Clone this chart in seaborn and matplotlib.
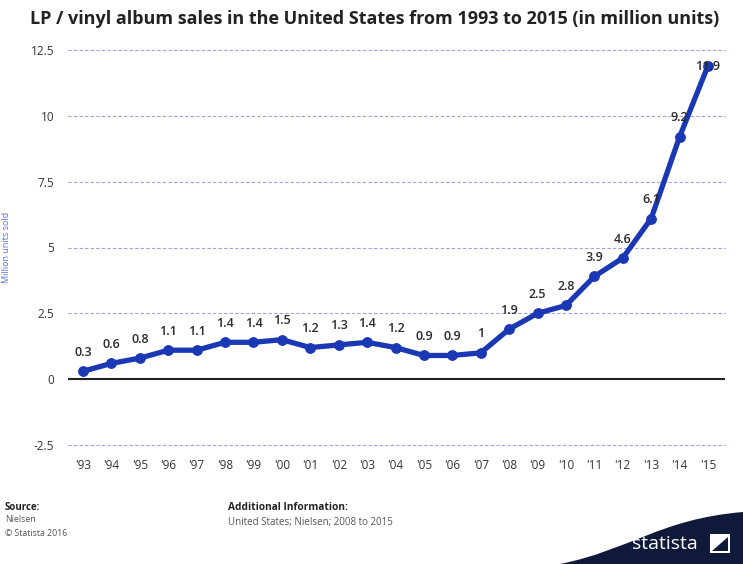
import matplotlib
matplotlib.use("Agg")
import matplotlib.pyplot as plt
import seaborn as sns
import pandas as pd
from matplotlib.patches import PathPatch, Rectangle, Polygon
from matplotlib.path import Path

years = ["'93", "'94", "'95", "'96", "'97", "'98", "'99", "'00", "'01", "'02", "'03",
         "'04", "'05", "'06", "'07", "'08", "'09", "'10", "'11", "'12", "'13", "'14", "'15"]
sales = [0.3, 0.6, 0.8, 1.1, 1.1, 1.4, 1.4, 1.5, 1.2, 1.3, 1.4,
         1.2, 0.9, 0.9, 1.0, 1.9, 2.5, 2.8, 3.9, 4.6, 6.1, 9.2, 11.9]
value_labels = ["0.3", "0.6", "0.8", "1.1", "1.1", "1.4", "1.4", "1.5", "1.2", "1.3", "1.4",
                "1.2", "0.9", "0.9", "1", "1.9", "2.5", "2.8", "3.9", "4.6", "6.1", "9.2", "11.9"]
y_ticks = [-2.5, 0, 2.5, 5, 7.5, 10, 12.5]
y_tick_labels = ["-2.5", "0", "2.5", "5", "7.5", "10", "12.5"]

df = pd.DataFrame({"idx": range(len(years)), "year": years, "sales": sales})

sns.set_theme(style="white")
plt.rcParams['font.family'] = ['Open Sans', 'DejaVu Sans']

fig = plt.figure(figsize=(7.43, 5.64), dpi=100)
ax = fig.add_axes([68/743, 1-445/564, (725-68)/743, (445-50)/564])

line_color = "#1a37b4"
for yt in y_ticks:
    if yt != 0:
        ax.axhline(yt, color="#9aa0e0", lw=0.8, ls=(0, (3, 2)), zorder=0, clip_on=False)
ax.axhline(0, color="#222222", lw=1.5, zorder=1)

sns.lineplot(data=df, x="idx", y="sales", ax=ax, color=line_color, lw=3.8,
             marker="o", markersize=7, markeredgecolor=line_color, zorder=3)

ymax = 12.5
for i, (v, lab) in enumerate(zip(sales, value_labels)):
    dy = 9 if v + 1.0 < ymax else -5
    ax.annotate(lab, (i, v), xytext=(0, dy), textcoords="offset points",
                ha="center", va="bottom", fontsize=9, fontweight="semibold",
                color="#2a2a2a", zorder=4)

ax.set_xlim(-0.53, 22.6)
ax.set_ylim(-2.5, ymax)
ax.set_xticks(range(len(years)))
ax.set_xticklabels(years, fontsize=8.5, color="#333333")
ax.set_yticks(y_ticks)
ax.set_yticklabels(y_tick_labels, fontsize=8.5, color="#333333")
ax.tick_params(axis="both", length=0, pad=10)
ax.set_xlabel("")
ax.set_ylabel("Million units sold", fontsize=6.5, color="#5a6bd6", labelpad=14)
for s in ax.spines.values():
    s.set_visible(False)

fig.text(30/743, 1-19/564, "LP / vinyl album sales in the United States from 1993 to 2015 (in million units)",
         fontsize=13, fontweight="bold", color="#222222", va="center", ha="left")

fig.text(5/743, 1-508/564, "Source:", fontsize=7, fontweight="bold", color="#222222", va="center")
fig.text(5/743, 1-520/564, "Nielsen", fontsize=6.3, color="#555555", va="center")
fig.text(5/743, 1-533/564, "© Statista 2016", fontsize=6.3, color="#555555", va="center")
fig.text(228/743, 1-508/564, "Additional Information:", fontsize=7.3, fontweight="bold", color="#222222", va="center")
fig.text(228/743, 1-522/564, "United States; Nielsen; 2008 to 2015", fontsize=7, color="#555555", va="center")

# statista swoosh
verts = [(560/743, 0), (630/743, 14/564), (660/743, 45/564), (743/743, 52/564),
         (743/743, 0), (560/743, 0)]
codes = [Path.MOVETO, Path.CURVE4, Path.CURVE4, Path.CURVE4, Path.LINETO, Path.CLOSEPOLY]
fig.patches.append(PathPatch(Path(verts, codes), transform=fig.transFigure,
                             facecolor="#0f1a3a", edgecolor="none"))
fig.text(632/743, 1-544/564, "statista", fontsize=14, color="white", va="center", ha="left")
fig.patches.append(Rectangle((710/743, 1-553/564), 20/743, 19/564, transform=fig.transFigure,
                             facecolor="white", edgecolor="none"))
fig.patches.append(Polygon([(712/743, 1-551/564), (728/743, 1-537/564), (728/743, 1-551/564)],
                           closed=True, transform=fig.transFigure, facecolor="#0f1a3a", edgecolor="none"))

fig.savefig("out.png", dpi=100)
